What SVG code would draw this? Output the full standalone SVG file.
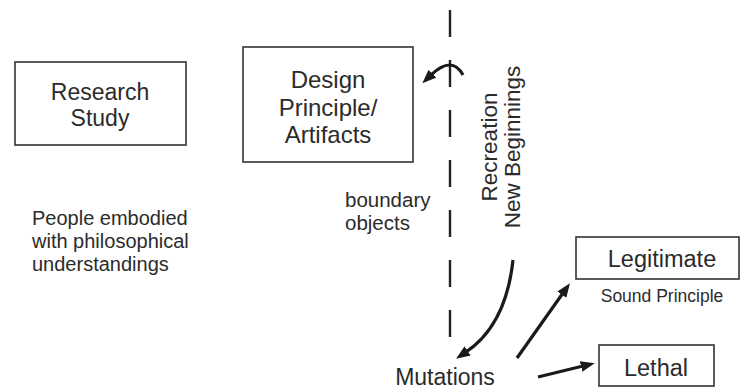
<svg xmlns="http://www.w3.org/2000/svg" width="741" height="390" viewBox="0 0 741 390">
<style>
text{font-family:"Liberation Sans",Arial,sans-serif;fill:#2b2b2b}
.box{fill:#fff;stroke:#333;stroke-width:1.6}
.lbl{font-size:23px;text-anchor:middle}
.sm{font-size:20px}
.arr{fill:none;stroke:#1a1a1a;stroke-width:3.2;marker-end:url(#ah)}
.dash{stroke:#222;stroke-width:2.4;stroke-dasharray:27 23}
</style>
<defs>
<marker id="ah" viewBox="0 0 14 11" markerWidth="14" markerHeight="11" refX="2" refY="5.5" orient="auto" markerUnits="userSpaceOnUse">
<path d="M0,0 L14,5.5 L0,11 z" fill="#1a1a1a"/>
</marker>
</defs>
<rect width="741" height="390" fill="#fff"/>
<g id="research">
<rect class="box" x="15" y="62" width="171" height="83"/>
<text class="lbl" x="100" y="100">Research</text>
<text class="lbl" x="100" y="126">Study</text>
</g>
<g id="design">
<rect class="box" x="243" y="47" width="170" height="115"/>
<text class="lbl" x="328" y="88" style="font-size:24px">Design</text>
<text class="lbl" x="328" y="115.5" style="font-size:24px">Principle/</text>
<text class="lbl" x="328" y="143" style="font-size:24px">Artifacts</text>
</g>
<g id="people">
<text class="sm" x="32" y="225">People embodied</text>
<text class="sm" x="32" y="248">with philosophical</text>
<text class="sm" x="32" y="271">understandings</text>
</g>
<g id="boundary">
<text class="sm" x="345" y="207" style="font-size:20.5px">boundary</text>
<text class="sm" x="345" y="230" style="font-size:20.5px">objects</text>
</g>
<g id="recreation">
<text class="lbl" transform="translate(497,147) rotate(-90)" style="font-size:22.5px">Recreation</text>
<text class="lbl" transform="translate(520,147) rotate(-90)" style="font-size:22.5px">New Beginnings</text>
</g>
<g id="legitimate">
<rect class="box" x="576" y="237" width="163" height="42"/>
<text class="lbl" x="662" y="267" style="font-size:23.5px">Legitimate</text>
<text x="662" y="302" style="font-size:17.5px;text-anchor:middle">Sound Principle</text>
</g>
<g id="lethal">
<rect class="box" x="599" y="345" width="115" height="41"/>
<text class="lbl" x="656" y="376" style="font-size:23.5px">Lethal</text>
</g>
<g id="mutations">
<text class="lbl" x="445" y="385">Mutations</text>
</g>
<g id="connectors">
<line class="dash" x1="450" y1="10" x2="450" y2="340"/>
<path class="arr" d="M463,75 Q452,55 431,75"/>
<path class="arr" d="M513,260 Q506,325 466,352"/>
<path class="arr" d="M517,358 L563,293"/>
<path class="arr" d="M538,377 L583,366"/>
</g>
</svg>
